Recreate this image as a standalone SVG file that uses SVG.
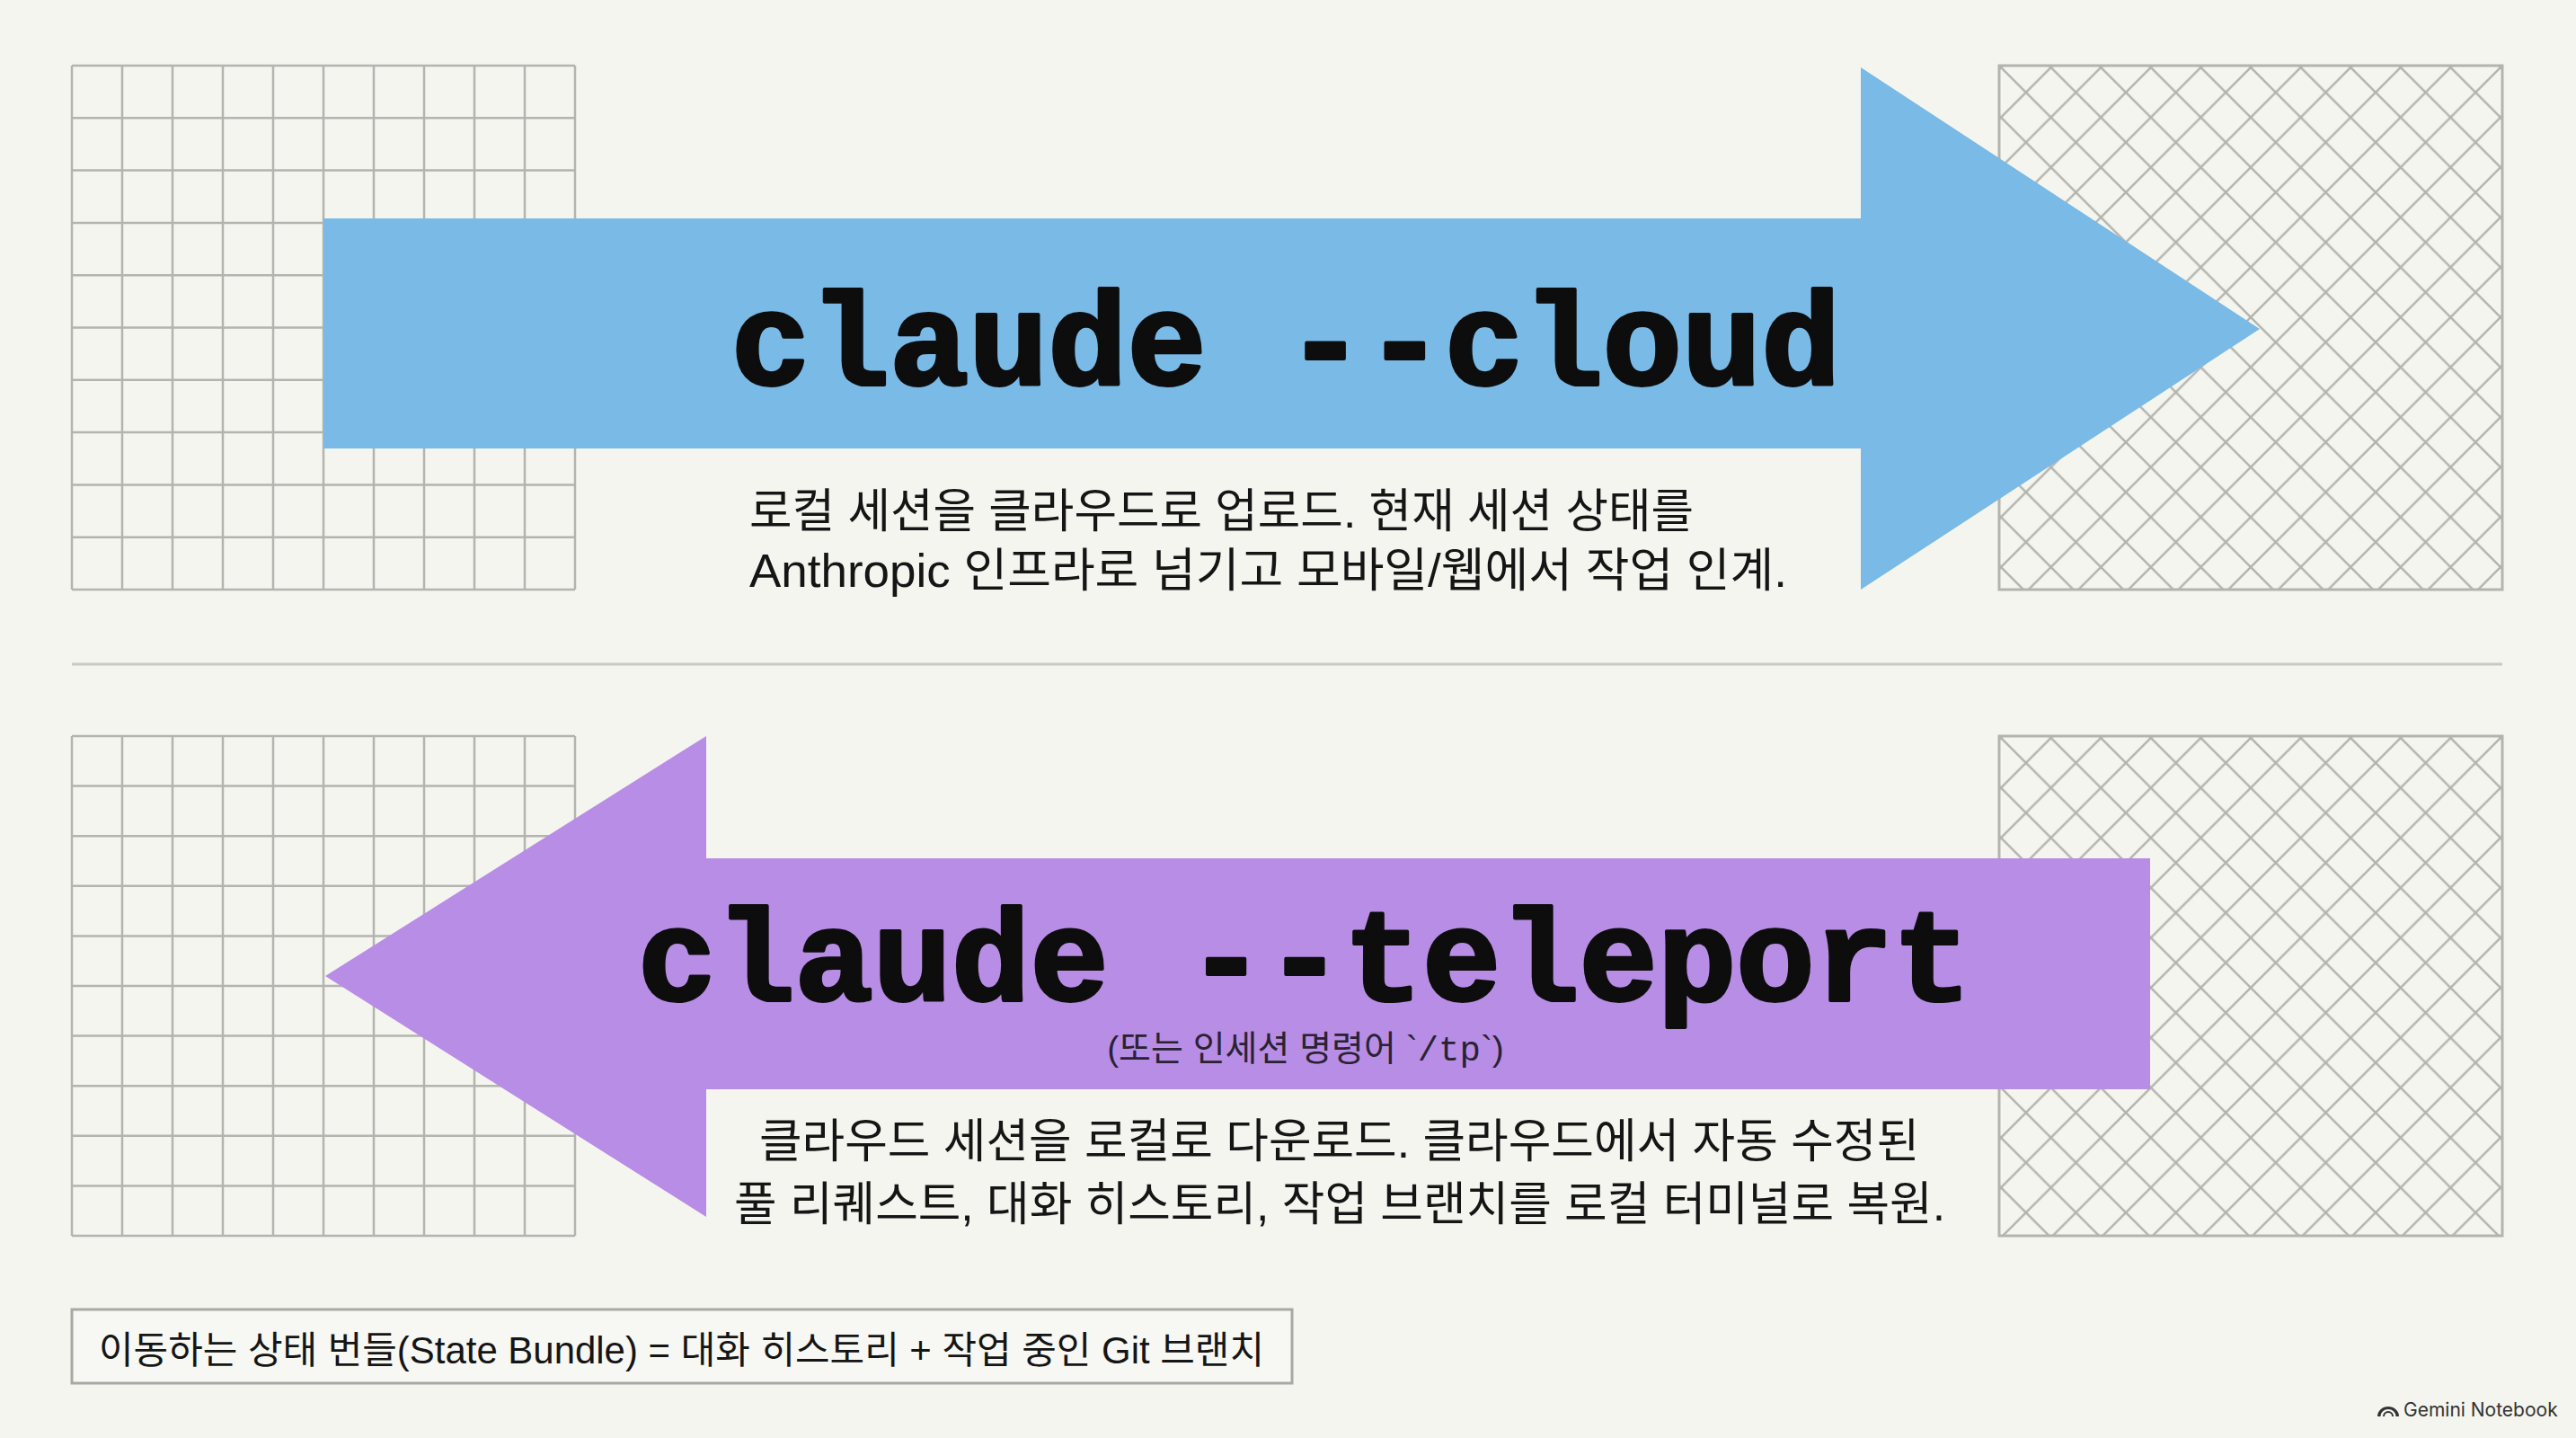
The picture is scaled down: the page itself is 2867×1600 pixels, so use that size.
<svg xmlns="http://www.w3.org/2000/svg" width="2867" height="1600" viewBox="0 0 2867 1600">
  <style>
    .grid { fill: none; stroke: #b4b4af; stroke-width: 2.5; }
    .frame { stroke: #b4b4af; stroke-width: 3; }
    .title { font-family: "Liberation Mono", "DejaVu Sans Mono", monospace; font-weight: bold; font-size: 147px; fill: #0d0d0d; stroke: #0d0d0d; stroke-width: 4; stroke-linejoin: round; text-anchor: middle; }
    .desc { font-family: "Liberation Sans", "Noto Sans CJK KR", sans-serif; font-size: 52px; fill: #151515; }
    .sub { font-family: "Liberation Sans", "Noto Sans CJK KR", sans-serif; font-size: 39px; fill: #2a2233; text-anchor: middle; }
    .mono { font-family: "Liberation Mono", monospace; }
    .note { font-family: "Liberation Sans", "Noto Sans CJK KR", sans-serif; font-size: 42px; fill: #151515; }
    .brand { font-family: "Inter", "Liberation Sans", sans-serif; font-size: 21px; fill: #333333; }
  </style>
  <defs>
    <pattern id="diamTop" patternUnits="userSpaceOnUse" x="2227" y="75" width="55.6" height="55.6">
      <path d="M-5 -5L60.6 60.6M60.6 -5L-5 60.6" stroke="#b4b4af" stroke-width="2.5" fill="none"/>
    </pattern>
    <pattern id="diamBot" patternUnits="userSpaceOnUse" x="2227" y="821" width="55.6" height="55.6">
      <path d="M-5 -5L60.6 60.6M60.6 -5L-5 60.6" stroke="#b4b4af" stroke-width="2.5" fill="none"/>
    </pattern>
  </defs>

  <rect id="background" x="0" y="0" width="2867" height="1600" fill="#f5f5f0"/>

  <g id="grid-top-left">
    <path class="grid" d="M80 73V656M136 73V656M192 73V656M248 73V656M304 73V656M360 73V656M416 73V656M472 73V656M528 73V656M584 73V656M640 73V656M80 73H640M80 131.3H640M80 189.6H640M80 247.9H640M80 306.2H640M80 364.5H640M80 422.8H640M80 481.1H640M80 539.4H640M80 597.7H640M80 656H640"/>
  </g>
  <g id="diamond-top-right">
    <rect x="2225" y="73" width="560" height="583" fill="url(#diamTop)" class="frame"/>
  </g>
  <g id="grid-bottom-left">
    <path class="grid" d="M80 819V1375M136 819V1375M192 819V1375M248 819V1375M304 819V1375M360 819V1375M416 819V1375M472 819V1375M528 819V1375M584 819V1375M640 819V1375M80 819H640M80 874.6H640M80 930.2H640M80 985.8H640M80 1041.4H640M80 1097H640M80 1152.6H640M80 1208.2H640M80 1263.8H640M80 1319.4H640M80 1375H640"/>
  </g>
  <g id="diamond-bottom-right">
    <rect x="2225" y="819" width="560" height="556" fill="url(#diamBot)" class="frame"/>
  </g>

  <g id="separator">
    <line x1="80" y1="739" x2="2785" y2="739" stroke="#c9c9c4" stroke-width="3"/>
  </g>

  <g id="connectors">
    <polygon id="cloud-arrow-shape" points="360,243 2071,243 2071,75 2515,366 2071,656 2071,499 360,499" fill="#79bae7"/>
    <polygon id="teleport-arrow-shape" points="2393,955 786,955 786,819 362,1086 786,1354 786,1212 2393,1212" fill="#b88de5"/>
  </g>

  <g id="cloud-node">
    <text class="title" x="1431" y="428">claude --cloud</text>
    <text class="desc" x="834" y="587" textLength="1051" lengthAdjust="spacingAndGlyphs">로컬 세션을 클라우드로 업로드. 현재 세션 상태를</text>
    <text class="desc" x="834" y="653" textLength="1155" lengthAdjust="spacingAndGlyphs">Anthropic 인프라로 넘기고 모바일/웹에서 작업 인계.</text>
  </g>

  <g id="teleport-node">
    <text class="title" x="1452" y="1113" style="font-size:145.5px">claude --teleport</text>
    <text class="sub" x="1453" y="1180">(또는 인세션 명령어 `<tspan class="mono">/tp</tspan>`)</text>
    <text class="desc" x="845" y="1288" textLength="1291" lengthAdjust="spacingAndGlyphs">클라우드 세션을 로컬로 다운로드. 클라우드에서 자동 수정된</text>
    <text class="desc" x="817" y="1358" textLength="1348" lengthAdjust="spacingAndGlyphs">풀 리퀘스트, 대화 히스토리, 작업 브랜치를 로컬 터미널로 복원.</text>
  </g>

  <g id="state-bundle-note">
    <rect x="80" y="1457" width="1358" height="82" fill="#f7f7f3" stroke="#a9a9a4" stroke-width="3"/>
    <text class="note" x="110" y="1517" textLength="1297" lengthAdjust="spacingAndGlyphs">이동하는 상태 번들(State Bundle) = 대화 히스토리 + 작업 중인 Git 브랜치</text>
  </g>

  <g id="brand">
    <path d="M2646 1576A12 11 0 0 1 2670 1576L2666.5 1576A8.5 8 0 0 0 2649.5 1576Z" fill="#333333"/>
    <path d="M2653 1576A5 5 0 0 1 2663 1576" fill="none" stroke="#333333" stroke-width="2"/>
    <text class="brand" x="2675" y="1576">Gemini Notebook</text>
  </g>
</svg>
